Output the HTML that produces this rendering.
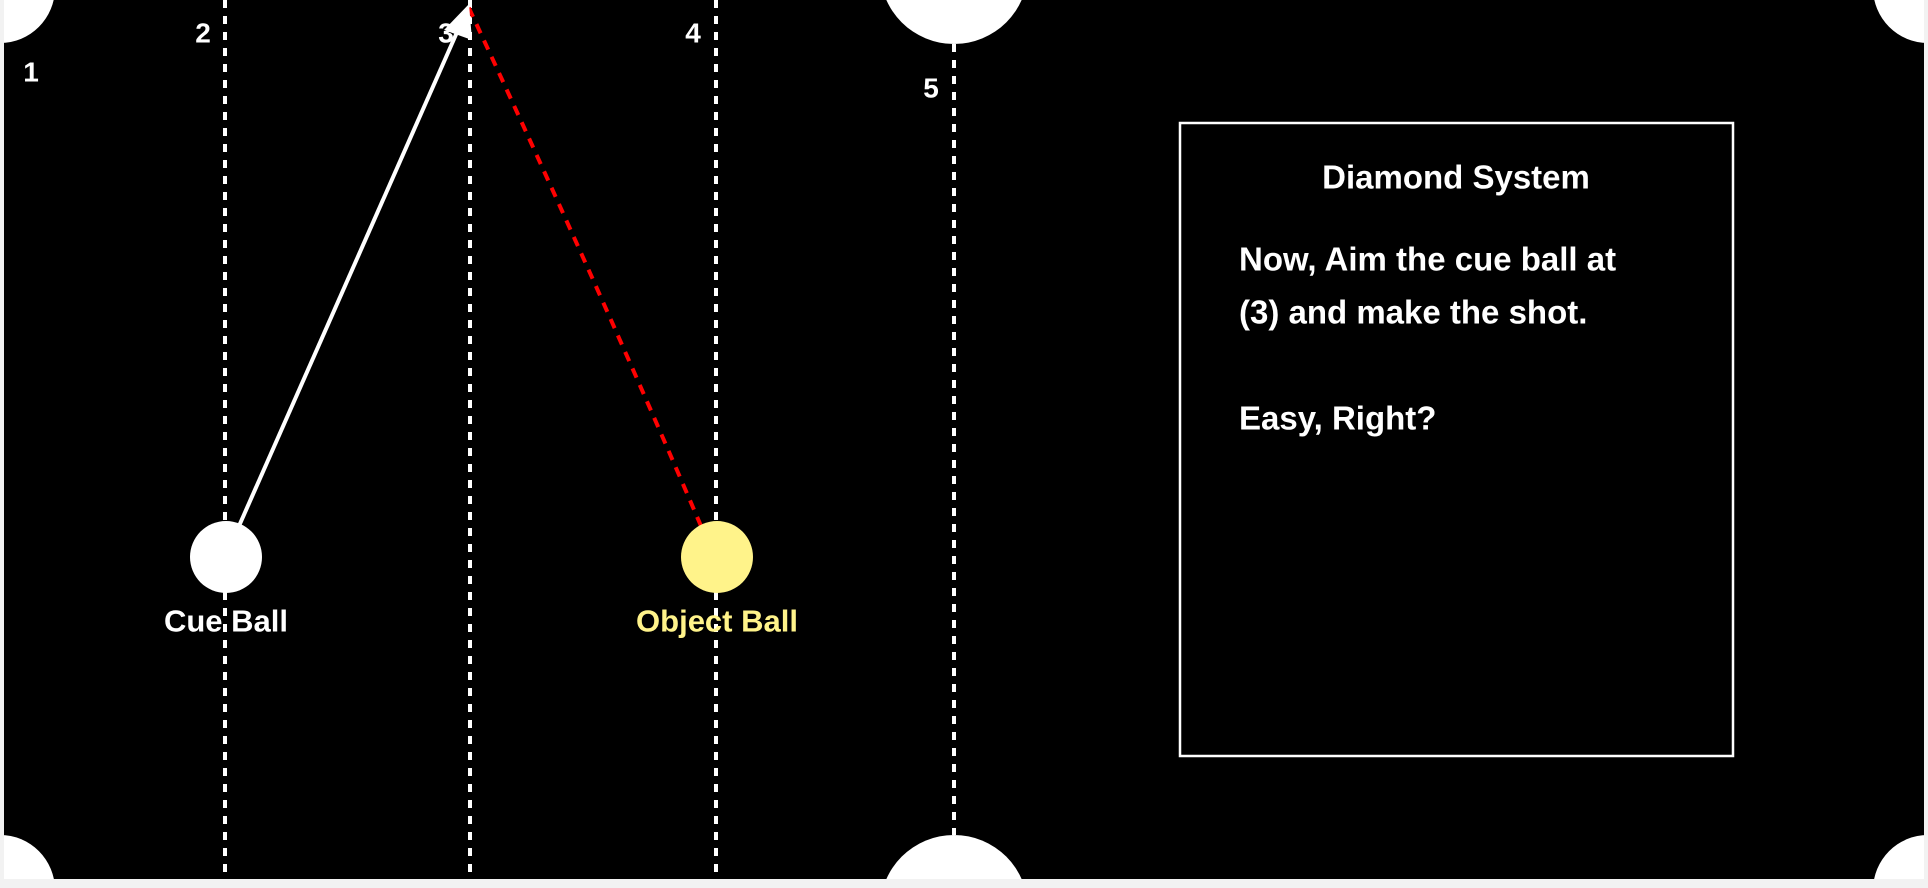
<!DOCTYPE html>
<html><head><meta charset="utf-8"><style>
html,body{margin:0;padding:0;background:#fff;overflow:hidden;width:1928px;height:888px;}
svg{display:block;font-family:"Liberation Sans",sans-serif;font-weight:bold;}
</style></head><body>
<svg width="1928" height="888" viewBox="0 0 1928 888">
<rect x="0" y="0" width="1928" height="888" fill="#f2f2f2"/>
<rect x="4" y="0" width="1920" height="879" fill="#000"/>
<g fill="#fff">
<circle cx="0" cy="-12" r="55"/>
<circle cx="954" cy="-30" r="74"/>
<circle cx="1928" cy="-12" r="55"/>
<circle cx="0" cy="890" r="55"/>
<circle cx="954" cy="909" r="74"/>
<circle cx="1928" cy="890" r="55"/>
</g>
<rect x="0" y="879" width="1928" height="9" fill="#f2f2f2"/>
<rect x="1924" y="0" width="4" height="888" fill="#f2f2f2"/>
<rect x="0" y="0" width="4" height="888" fill="#f2f2f2"/>
<g stroke="#fff" stroke-width="4" stroke-dasharray="8 8">
<line x1="225" y1="0" x2="225" y2="879"/>
<line x1="470" y1="0" x2="470" y2="879"/>
<line x1="716" y1="0" x2="716" y2="879"/>
<line x1="954" y1="44" x2="954" y2="835"/>
</g>
<g fill="#fff" font-size="28" text-anchor="middle" dominant-baseline="central">
<text x="31" y="72">1</text>
<text x="203" y="33">2</text>
<text x="446" y="33">3</text>
<text x="693" y="33">4</text>
<text x="931" y="88">5</text>
</g>
<path d="M701 526 Q 600 290 468 6" fill="none" stroke="#ff0000" stroke-width="4" stroke-dasharray="10 8"/>
<line x1="239" y1="526" x2="458" y2="30" stroke="#fff" stroke-width="4"/>
<polygon points="469,4 444,30 472,40" fill="#fff"/>
<circle cx="226" cy="557" r="36" fill="#fff"/>
<circle cx="717" cy="557" r="36" fill="#fff38a"/>
<text x="226" y="621" fill="#fff" font-size="31" text-anchor="middle" dominant-baseline="central">Cue Ball</text>
<text x="717" y="621" fill="#fff38a" font-size="31" text-anchor="middle" dominant-baseline="central">Object Ball</text>
<rect x="1180" y="123" width="553" height="633" fill="#000" stroke="#fff" stroke-width="2.5"/>
<text x="1456" y="177" fill="#fff" font-size="33" text-anchor="middle" dominant-baseline="central">Diamond System</text>
<g fill="#fff" font-size="33" dominant-baseline="central">
<text x="1239" y="259">Now, Aim the cue ball at</text>
<text x="1239" y="312">(3) and make the shot.</text>
<text x="1239" y="418">Easy, Right?</text>
</g>
</svg>
</body></html>
